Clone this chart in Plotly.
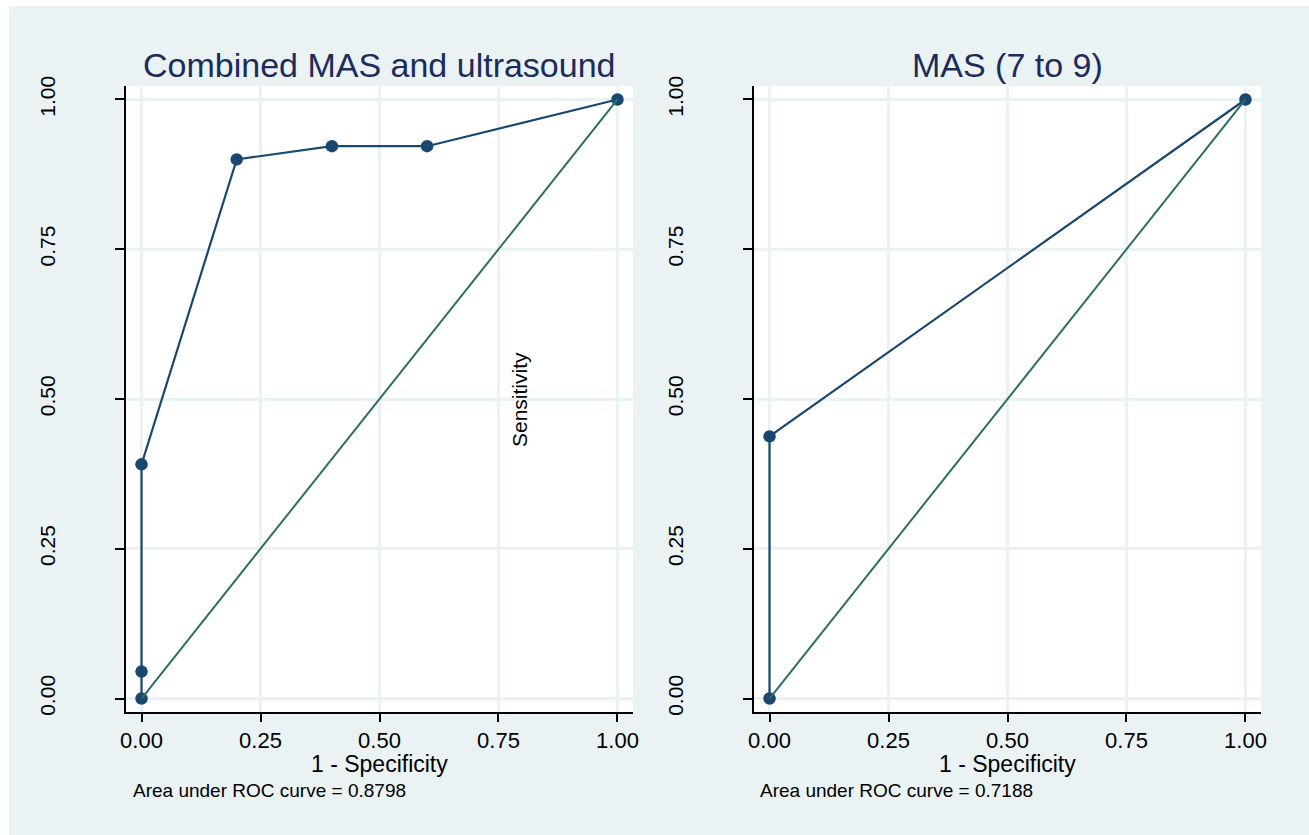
import plotly.graph_objects as go

# ---- data ----
combined_fpr = [0.0, 0.0, 0.0, 0.2, 0.4, 0.6, 1.0]
combined_tpr = [0.0, 0.045, 0.391, 0.90, 0.922, 0.922, 1.0]
mas_fpr = [0.0, 0.0, 1.0]
mas_tpr = [0.0, 0.4375, 1.0]
ref_x = [0.0, 1.0]
ref_y = [0.0, 1.0]
tick_vals = [0.0, 0.25, 0.5, 0.75, 1.0]
tick_text = ["0.00", "0.25", "0.50", "0.75", "1.00"]
titles = ["Combined MAS and ultrasound", "MAS (7 to 9)"]
xtitle = "1 - Specificity"
ytitle = "Sensitivity"
auc_text = ["Area under ROC curve = 0.8798", "Area under ROC curve = 0.7188"]

W, H = 1309, 835
BG = "#EAF2F3"
NAVY = "#1a476f"
GREEN = "#2e6e62"
FONT = "Liberation Sans, Arial, sans-serif"

def px(x):
    return x / W

def py(y):
    return 1 - y / H

fig = go.Figure()

for i, (fx, fy) in enumerate([(combined_fpr, combined_tpr), (mas_fpr, mas_tpr)]):
    xa = "x" if i == 0 else "x2"
    ya = "y" if i == 0 else "y2"
    fig.add_trace(go.Scatter(x=fx, y=fy, mode="lines+markers", xaxis=xa, yaxis=ya,
                             line=dict(color=NAVY, width=2.2),
                             marker=dict(color=NAVY, size=12.5), showlegend=False,
                             cliponaxis=False))
    fig.add_trace(go.Scatter(x=ref_x, y=ref_y, mode="lines", xaxis=xa, yaxis=ya,
                             line=dict(color=GREEN, width=2), showlegend=False,
                             cliponaxis=False))

xr = [-0.0326, 1.0326]
yr = [-0.0225, 1.0225]
ydom = [py(712), py(86)]
xdoms = [[px(126), px(633)], [px(754), px(1261)]]

common_x = dict(range=xr, tickvals=tick_vals, ticktext=tick_text, showgrid=True,
                gridcolor=BG, gridwidth=2.5, zeroline=False, showline=True,
                linecolor="black", linewidth=1.5, ticks="outside", ticklen=8,
                tickwidth=1.5, tickcolor="black",
                tickfont=dict(family=FONT, size=22, color="black"),
                fixedrange=True)
common_y = dict(range=yr, tickvals=tick_vals, ticktext=tick_text, showgrid=True,
                gridcolor=BG, gridwidth=2.5, zeroline=False, showline=True,
                linecolor="black", linewidth=1.5, ticks="outside", ticklen=9,
                tickwidth=1.5, tickcolor="black", tickangle=-90,
                ticklabelstandoff=52,
                tickfont=dict(family=FONT, size=21, color="black"),
                domain=ydom, fixedrange=True)

fig.update_layout(
    width=W, height=H,
    margin=dict(l=0, r=0, t=0, b=0, autoexpand=False),
    paper_bgcolor=BG,
    plot_bgcolor="white",
    xaxis=dict(domain=xdoms[0], anchor="y", **common_x),
    yaxis=dict(anchor="x", **common_y),
    xaxis2=dict(domain=xdoms[1], anchor="y2", **common_x),
    yaxis2=dict(anchor="x2", **common_y),
    shapes=[
        dict(type="rect", xref="paper", yref="paper", x0=0, x1=1, y0=py(6), y1=1,
             fillcolor="white", line=dict(width=0), layer="below"),
        dict(type="rect", xref="paper", yref="paper", x0=0, x1=px(9), y0=0, y1=1,
             fillcolor="white", line=dict(width=0), layer="below"),
    ],
)

annotations = []
for i in range(2):
    cx = (xdoms[i][0] + xdoms[i][1]) / 2
    annotations.append(dict(text=titles[i], x=cx, y=py(65), xref="paper", yref="paper",
                            xanchor="center", yanchor="middle", showarrow=False,
                            font=dict(family=FONT, size=34, color="#1c2c5a")))
    annotations.append(dict(text=xtitle, x=cx, y=py(764), xref="paper", yref="paper",
                            xanchor="center", yanchor="middle", showarrow=False,
                            font=dict(family=FONT, size=23, color="black")))
annotations.append(dict(text=auc_text[0], x=px(131), y=py(790), xref="paper", yref="paper",
                        xanchor="left", yanchor="middle", showarrow=False,
                        font=dict(family=FONT, size=19, color="black")))
annotations.append(dict(text=auc_text[1], x=px(758), y=py(790), xref="paper", yref="paper",
                        xanchor="left", yanchor="middle", showarrow=False,
                        font=dict(family=FONT, size=19, color="black")))
annotations.append(dict(text=ytitle, x=px(519), y=py(400), xref="paper", yref="paper",
                        xanchor="center", yanchor="middle", showarrow=False, textangle=-90,
                        font=dict(family=FONT, size=21, color="black")))
fig.update_layout(annotations=annotations)

fig.write_html("out.html",
               post_script="document.body.style.margin='0';document.body.style.overflow='hidden';")
